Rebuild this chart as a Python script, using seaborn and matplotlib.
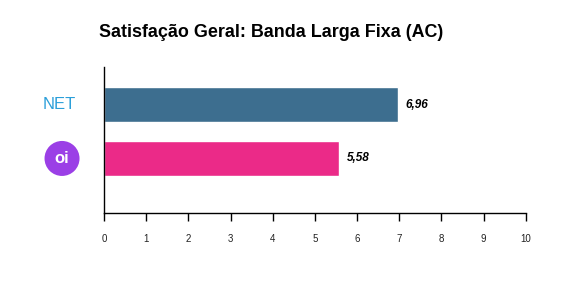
import matplotlib
matplotlib.use("Agg")
import matplotlib.pyplot as plt
import matplotlib.transforms as mtransforms
import seaborn as sns
import pandas as pd

operators = ["NET", "oi"]
scores = [6.96, 5.58]
score_labels = ["6,96", "5,58"]
bar_colors = ["#3d6e8f", "#eb2a88"]
x_ticks = list(range(0, 11))

sns.set_theme(style="white")
plt.rcParams['font.family'] = ['Liberation Sans', 'DejaVu Sans']

df = pd.DataFrame({"operator": operators, "score": scores})

fig = plt.figure(figsize=(5.81, 2.82), dpi=100)
ax = fig.add_axes([0.179, 0.245, 0.726, 0.517])
sns.barplot(data=df, x="score", y="operator", hue="operator", palette=bar_colors,
            orient="h", width=0.65, ax=ax, legend=False, saturation=1)

ax.set_xlim(0, 10)
ax.set_ylim(2.01, -0.694)
ax.set_xticks(x_ticks)
ax.set_xticklabels([str(t) for t in x_ticks], fontsize=7, color="#222222")
ax.tick_params(axis="x", direction="out", length=6, width=1, color="black", pad=9, bottom=True)
ax.set_xlabel("")
ax.set_ylabel("")
for s in ["top", "right"]:
    ax.spines[s].set_visible(False)
for s in ["left", "bottom"]:
    ax.spines[s].set_color("black")
    ax.spines[s].set_linewidth(1)

ax.set_yticks([0, 1])
ax.set_yticklabels(["", ""])
ax.tick_params(axis="y", left=False)

trans = mtransforms.blended_transform_factory(ax.transAxes, ax.transData)
ax.text(-0.066, 0, operators[0], transform=trans, ha="right", va="center",
        fontsize=12, color="#2b9fd9")
ax.text(-0.0995, 1, operators[1], transform=trans, ha="center", va="center",
        fontsize=12, fontweight="bold", color="white",
        bbox=dict(boxstyle="circle,pad=0.6", facecolor="#9b3fe6", edgecolor="none"))

for i, (v, lab) in enumerate(zip(scores, score_labels)):
    ax.text(v + 0.18, i, lab, va="center", ha="left", fontsize=8.5,
            fontweight="bold", fontstyle="italic", color="black")

fig.text(0.17, 0.885, "Satisfação Geral: Banda Larga Fixa (AC)", fontsize=12.9,
         fontweight="bold", ha="left", va="center", color="black")

fig.savefig("out.png", dpi=100, facecolor="white")
